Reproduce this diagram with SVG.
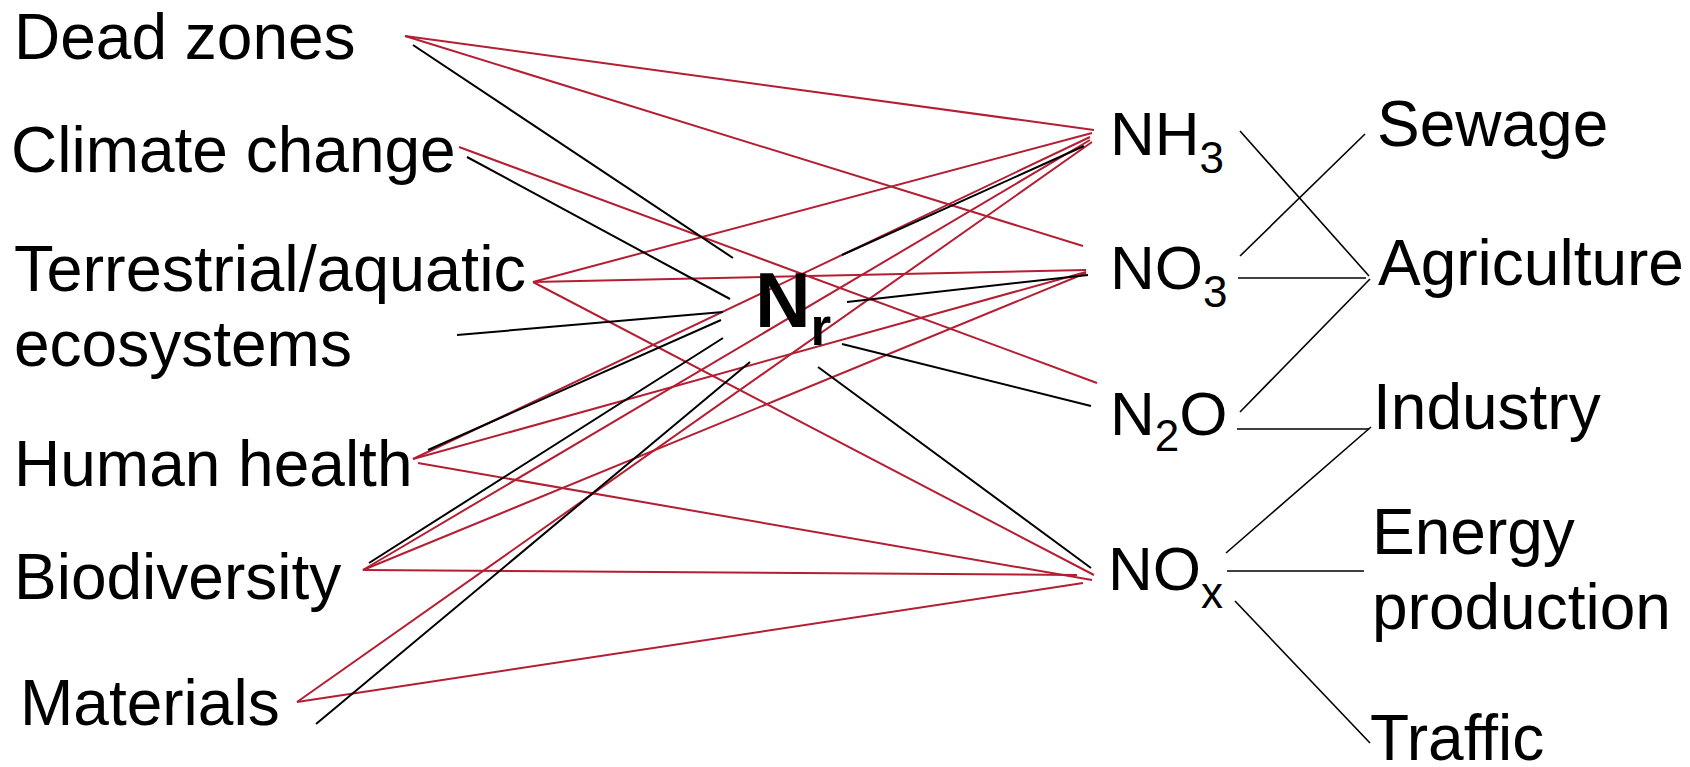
<svg xmlns="http://www.w3.org/2000/svg" width="1690" height="767" viewBox="0 0 1690 767">
  <style>
    text { font-family: "Liberation Sans", Arial, sans-serif; fill: #000; }
    .lbl { font-size: 64px; }
    .chem { font-size: 62px; }
    .src { font-size: 64px; }
    .sub { font-size: 44px; }
    .hub { font-size: 77px; font-weight: bold; }
    .red { stroke: #B41E32; stroke-width: 2; fill: none; }
    .blk { stroke: #000; stroke-width: 2; fill: none; }
    .thin { stroke: #000; stroke-width: 1.6; fill: none; }
  </style>

  <!-- connectors -->
  <g id="connectors" stroke-linecap="butt">
    <!-- effect -> compound (direct, red) -->
    <line class="red" x1="405" y1="36" x2="1094" y2="130"/>
    <line class="red" x1="405" y1="36" x2="1083" y2="246"/>
    <line class="red" x1="459" y1="147" x2="1097" y2="383"/>
    <line class="red" x1="533" y1="282" x2="1092" y2="133"/>
    <line class="red" x1="533" y1="282" x2="1086" y2="270"/>
    <line class="red" x1="533" y1="282" x2="1094" y2="575"/>
    <line class="red" x1="413" y1="459" x2="1090" y2="137"/>
    <line class="red" x1="413" y1="459" x2="1086" y2="272"/>
    <line class="red" x1="418" y1="463" x2="1092" y2="580"/>
    <line class="red" x1="363" y1="570" x2="1090" y2="140"/>
    <line class="red" x1="363" y1="570" x2="1086" y2="273"/>
    <line class="red" x1="363" y1="570" x2="1077" y2="575"/>
    <line class="red" x1="297" y1="702" x2="1092" y2="142"/>
    <line class="red" x1="297" y1="702" x2="1083" y2="583"/>

    <!-- effect -> Nr (black) -->
    <line class="blk" x1="413" y1="45" x2="733" y2="258"/>
    <line class="blk" x1="467" y1="157" x2="730" y2="299"/>
    <line class="blk" x1="457" y1="335" x2="723" y2="312"/>
    <line class="blk" x1="428" y1="450" x2="721" y2="320"/>
    <line class="blk" x1="369" y1="563" x2="723" y2="338"/>
    <line class="blk" x1="316" y1="724" x2="750" y2="362"/>

    <!-- Nr -> compound (black) -->
    <line class="blk" x1="842" y1="255" x2="1084" y2="146"/>
    <line class="blk" x1="847" y1="302" x2="1088" y2="275"/>
    <line class="blk" x1="842" y1="344" x2="1091" y2="406"/>
    <line class="blk" x1="818" y1="367" x2="1091" y2="568"/>

    <!-- compound -> source (black) -->
    <line class="thin" x1="1240" y1="131" x2="1369" y2="276"/>
    <line class="thin" x1="1240" y1="256" x2="1365" y2="134"/>
    <line class="thin" x1="1238" y1="278" x2="1366" y2="278"/>
    <line class="thin" x1="1240" y1="412" x2="1370" y2="279"/>
    <line class="thin" x1="1237" y1="429" x2="1369" y2="429"/>
    <line class="thin" x1="1226" y1="553" x2="1371" y2="427"/>
    <line class="thin" x1="1227" y1="571" x2="1364" y2="571"/>
    <line class="thin" x1="1235" y1="601" x2="1370" y2="743"/>
  </g>

  <!-- effects -->
  <g id="dead-zones"><text class="lbl" x="14" y="59">Dead zones</text></g>
  <g id="climate-change"><text class="lbl" x="11" y="172">Climate change</text></g>
  <g id="ecosystems">
    <text class="lbl" x="14" y="291" textLength="512" lengthAdjust="spacingAndGlyphs">Terrestrial/aquatic</text>
    <text class="lbl" x="14" y="366">ecosystems</text>
  </g>
  <g id="human-health"><text class="lbl" x="14" y="486">Human health</text></g>
  <g id="biodiversity"><text class="lbl" x="14" y="599">Biodiversity</text></g>
  <g id="materials"><text class="lbl" x="20" y="725">Materials</text></g>

  <!-- reactive nitrogen hub -->
  <g id="nr"><text class="hub" x="755" y="327">N<tspan style="font-size:53px" dy="18">r</tspan></text></g>

  <!-- compounds -->
  <g id="nh3"><text class="chem" x="1110" y="155">NH<tspan class="sub" dy="18">3</tspan></text></g>
  <g id="no3"><text class="chem" x="1110" y="289">NO<tspan class="sub" dy="18">3</tspan></text></g>
  <g id="n2o"><text class="chem" x="1110" y="435">N<tspan class="sub" dy="16">2</tspan><tspan dy="-16">O</tspan></text></g>
  <g id="nox"><text class="chem" x="1108" y="590">NO<tspan class="sub" dy="18">x</tspan></text></g>

  <!-- sources -->
  <g id="sewage"><text class="src" x="1377" y="146">Sewage</text></g>
  <g id="agriculture"><text class="src" x="1378" y="285">Agriculture</text></g>
  <g id="industry"><text class="src" x="1373" y="429">Industry</text></g>
  <g id="energy-production">
    <text class="src" x="1372" y="554">Energy</text>
    <text class="src" x="1372" y="629">production</text>
  </g>
  <g id="traffic"><text class="src" x="1370" y="760">Traffic</text></g>
</svg>
